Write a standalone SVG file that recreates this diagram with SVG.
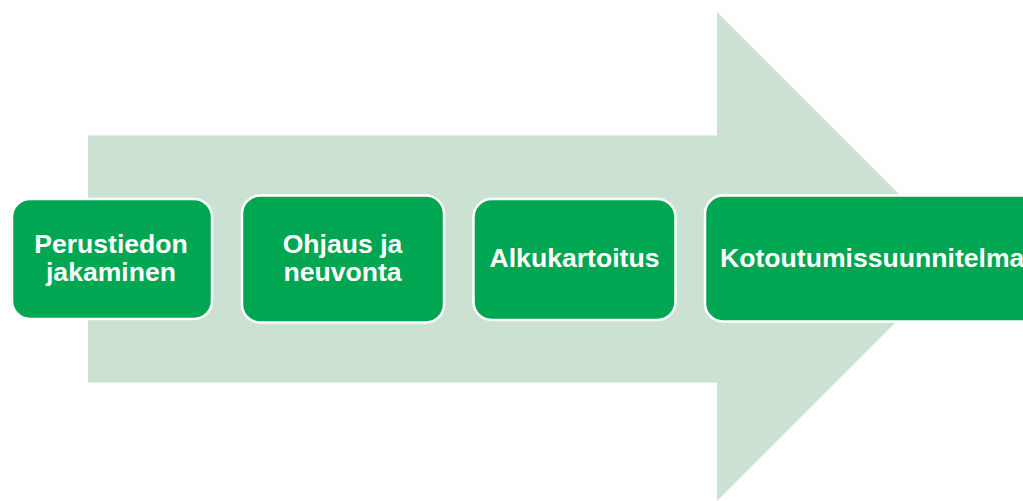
<svg xmlns="http://www.w3.org/2000/svg" width="1023" height="501" viewBox="0 0 1023 501">
<style>
.box{fill:#00A651;stroke:#FFFFFF;stroke-width:2.5}
.lbl{font-family:"Liberation Sans",Arial,sans-serif;font-weight:bold;font-size:26.6px;fill:#FFFFFF}
</style>
<rect width="1023" height="501" fill="#FFFFFF"/>
<g id="connectors">
<polygon points="88,135.5 717,135.5 717,12 961.5,256.5 717,501 717,382.5 88,382.5" fill="#CBE1D1"/>
</g>
<g id="node1">
<rect class="box" x="12" y="199" width="200" height="120" rx="18"/>
<text class="lbl" x="111" y="252.5" text-anchor="middle">Perustiedon</text>
<text class="lbl" x="111" y="280.5" text-anchor="middle">jakaminen</text>
</g>
<g id="node2">
<rect class="box" x="242" y="195.5" width="202" height="127" rx="18"/>
<text class="lbl" x="342.5" y="252.5" text-anchor="middle">Ohjaus ja</text>
<text class="lbl" x="342.5" y="280.5" text-anchor="middle">neuvonta</text>
</g>
<g id="node3">
<rect class="box" x="473.5" y="199" width="202" height="121" rx="18"/>
<text class="lbl" x="574.5" y="267" text-anchor="middle">Alkukartoitus</text>
</g>
<g id="node4">
<rect class="box" x="705" y="195.5" width="340" height="126" rx="18"/>
<text class="lbl" x="720" y="267">Kotoutumissuunnitelma</text>
</g>
</svg>
